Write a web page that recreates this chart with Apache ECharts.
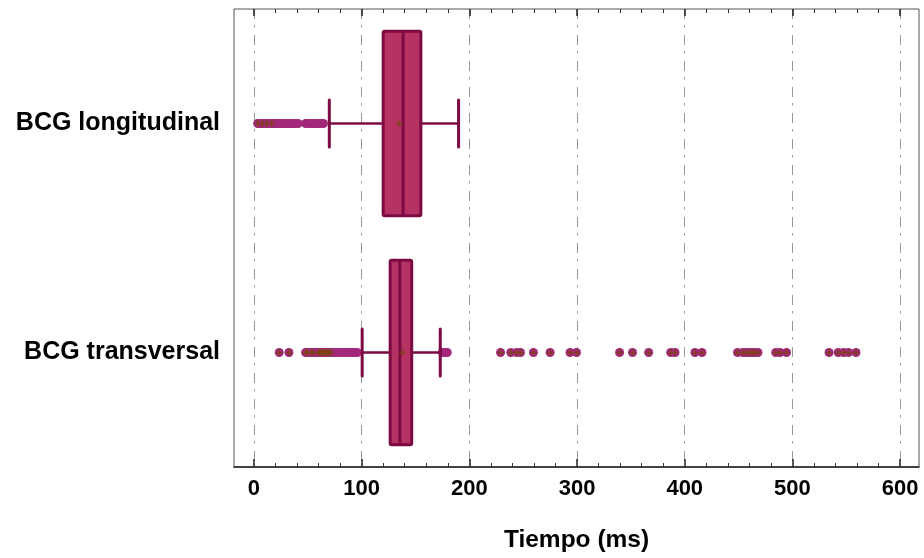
<!DOCTYPE html>
<html>
<head>
<meta charset="utf-8">
<script src="https://cdn.jsdelivr.net/npm/echarts@6/dist/echarts.min.js"></script>
<style>
  html, body { margin: 0; padding: 0; background: #fff; }
  #chart { width: 924px; height: 558px; }
</style>
</head>
<body>
<div id="chart"></div>
<script>
// Groups shown on the vertical axis (top to bottom)
const categories = ['BCG longitudinal', 'BCG transversal'];

// Box statistics: [lower whisker, Q1, median, Q3, upper whisker] in ms
const boxLongitudinal = [70, 120, 138.5, 155, 190];
const boxTransversal = [100.5, 126.5, 135.5, 146.5, 173];

// Mean of each group (ms)
const meanValues = [135, 137.8];

// Outlying observations (ms)
const outliersLongitudinal = [3.5, 5, 7, 8, 10, 12, 14, 16, 18, 19.5, 21.5, 23.5, 25,
  27.5, 30, 32, 34, 36, 38.5, 41, 48, 50.5, 52.5, 55, 57, 59, 61, 63, 64.5];
const outliersTransversal = [23.5, 32.5, 48, 49.5, 51, 53, 54.5, 56, 58, 59.5, 61, 62.5,
  64, 65, 66, 67, 68, 69, 70, 71.5, 73, 75, 77.5, 80, 82.5, 85, 87.5, 90, 92, 94.5, 96,
  175, 177.5, 179.5,
  229, 238.5, 244, 247.5, 259.5, 275, 293.5, 299.5, 339.5, 351.5, 366.5, 387, 391,
  409.5, 416, 449, 454, 457, 460, 462.5, 465, 468, 484.5, 488.5, 494.5,
  534, 542.5, 547.5, 552, 559];

// Outliers that also carry a small cross mark
const crossLongitudinal = [3.5, 8, 12, 16.5];
const crossTransversal = [23.5, 32.5, 48, 49.5, 53, 54.5, 59.5, 61, 62.5, 64, 65, 66, 67,
  68, 69, 70, 71.5,
  229, 238.5, 244, 247.5, 259.5, 275, 293.5, 299.5, 339.5, 351.5, 366.5, 387, 391,
  409.5, 416, 449, 454, 457, 460, 462.5, 465, 468, 484.5, 488.5, 494.5,
  534, 542.5, 547.5, 552, 559];

// Axis ticks (ms)
const majorTicks = [0, 100, 200, 300, 400, 500, 600];
const minorTicks = [20, 40, 60, 80, 120, 140, 160, 180, 220, 240, 260, 280,
  320, 340, 360, 380, 420, 440, 460, 480, 520, 540, 560, 580];

const X_MIN = -18.5;
const X_MAX = 617.5;

const BOX_FILL = '#b53262';
const BOX_EDGE = '#7d0a43';
const DOT = '#a3287a';
const CROSS = '#7e4214';
const CROSS_PATH = 'path://M0.38,0L0.62,0L0.62,0.38L1,0.38L1,0.62L0.62,0.62L0.62,1L0.38,1L0.38,0.62L0,0.62L0,0.38L0.38,0.38Z';

const boxData = [
  [0].concat(boxLongitudinal),
  [1].concat(boxTransversal)
];

function pairs(values, cat) {
  return values.map(v => [v, cat]);
}

function renderBox(params, api) {
  const cat = api.value(0);
  const low = api.coord([api.value(1), cat]);
  const q1 = api.coord([api.value(2), cat]);
  const med = api.coord([api.value(3), cat]);
  const q3 = api.coord([api.value(4), cat]);
  const high = api.coord([api.value(5), cat]);
  const band = api.size([0, 1])[1];
  const boxH = band * 0.805;
  const capH = band * 0.205;
  const cy = low[1];
  const lineStyle = { stroke: BOX_EDGE, lineWidth: 2.5, fill: null };
  return {
    type: 'group',
    children: [
      { type: 'line', shape: { x1: low[0], y1: cy, x2: q1[0], y2: cy }, style: lineStyle },
      { type: 'line', shape: { x1: q3[0], y1: cy, x2: high[0], y2: cy }, style: lineStyle },
      { type: 'line', shape: { x1: low[0], y1: cy - capH / 2, x2: low[0], y2: cy + capH / 2 },
        style: { stroke: BOX_EDGE, lineWidth: 3, lineCap: 'round' } },
      { type: 'line', shape: { x1: high[0], y1: cy - capH / 2, x2: high[0], y2: cy + capH / 2 },
        style: { stroke: BOX_EDGE, lineWidth: 3, lineCap: 'round' } },
      { type: 'rect', shape: { x: q1[0], y: cy - boxH / 2, width: q3[0] - q1[0], height: boxH, r: 1.5 },
        style: { fill: BOX_FILL, stroke: BOX_EDGE, lineWidth: 3, lineJoin: 'round' } },
      { type: 'line', shape: { x1: med[0], y1: cy - boxH / 2, x2: med[0], y2: cy + boxH / 2 },
        style: { stroke: BOX_EDGE, lineWidth: 3 } }
    ]
  };
}

const labelFont = { fontFamily: 'Liberation Sans, Arial, sans-serif', fontWeight: 'bold', color: '#000' };

const chart = echarts.init(document.getElementById('chart'), null, { renderer: 'canvas' });
chart.setOption({
  backgroundColor: '#fff',
  animation: false,
  grid: [
    { left: 234, top: 9, right: 5, bottom: 91, show: true, borderColor: '#555', borderWidth: 1, backgroundColor: 'transparent' },
    { left: 234, top: 9, right: 5, bottom: 91, show: false }
  ],
  xAxis: [
    {
      type: 'value', gridIndex: 0, position: 'bottom', min: X_MIN, max: X_MAX,
      name: 'Tiempo (ms)', nameLocation: 'middle', nameGap: 61,
      nameTextStyle: Object.assign({ fontSize: 24.5 }, labelFont),
      axisLine: { show: true, lineStyle: { color: '#222', width: 1.5 } },
      axisTick: { show: true, inside: true, length: 8, customValues: majorTicks, lineStyle: { color: '#222', width: 1.5 } },
      axisLabel: Object.assign({ fontSize: 22, margin: 11, customValues: majorTicks }, labelFont),
      splitLine: { show: true, lineStyle: { color: '#999', width: 1, type: [10, 6, 2.5, 7.5] } }
    },
    {
      type: 'value', gridIndex: 0, position: 'top', min: X_MIN, max: X_MAX,
      axisLine: { show: false },
      axisTick: { show: true, inside: true, length: 7, customValues: majorTicks, lineStyle: { color: '#222', width: 1.5 } },
      axisLabel: { show: false },
      splitLine: { show: false }
    },
    {
      type: 'value', gridIndex: 1, position: 'bottom', min: X_MIN, max: X_MAX,
      axisLine: { show: false },
      axisTick: { show: true, inside: true, length: 4, customValues: minorTicks, lineStyle: { color: '#333', width: 1 } },
      axisLabel: { show: false },
      splitLine: { show: false }
    },
    {
      type: 'value', gridIndex: 1, position: 'top', min: X_MIN, max: X_MAX,
      axisLine: { show: false },
      axisTick: { show: true, inside: true, length: 4, customValues: minorTicks, lineStyle: { color: '#333', width: 1 } },
      axisLabel: { show: false },
      splitLine: { show: false }
    }
  ],
  yAxis: [
    {
      type: 'category', gridIndex: 0, data: categories, inverse: true,
      axisLine: { show: false }, axisTick: { show: false },
      axisLabel: Object.assign({ fontSize: 25, margin: 14, padding: [5, 0, 0, 0] }, labelFont),
      splitLine: { show: false }
    },
    {
      type: 'category', gridIndex: 1, data: categories, inverse: true, show: false
    }
  ],
  series: [
    {
      type: 'custom', name: 'box', xAxisIndex: 0, yAxisIndex: 0,
      renderItem: renderBox,
      encode: { x: [1, 2, 3, 4, 5], y: 0 },
      data: boxData, z: 3
    },
    {
      type: 'scatter', xAxisIndex: 0, yAxisIndex: 0,
      symbol: 'circle', symbolSize: 9,
      itemStyle: { color: DOT, opacity: 1 },
      data: pairs(outliersLongitudinal, 0).concat(pairs(outliersTransversal, 1)), z: 2
    },
    {
      type: 'scatter', xAxisIndex: 0, yAxisIndex: 0,
      symbol: CROSS_PATH, symbolSize: 7,
      itemStyle: { color: CROSS },
      data: pairs(crossLongitudinal, 0).concat(pairs(crossTransversal, 1)), z: 4
    },
    {
      type: 'scatter', xAxisIndex: 0, yAxisIndex: 0,
      symbol: CROSS_PATH, symbolSize: 7,
      itemStyle: { color: CROSS },
      data: meanValues.map((v, i) => [v, i]), z: 5
    }
  ]
});
</script>
</body>
</html>
